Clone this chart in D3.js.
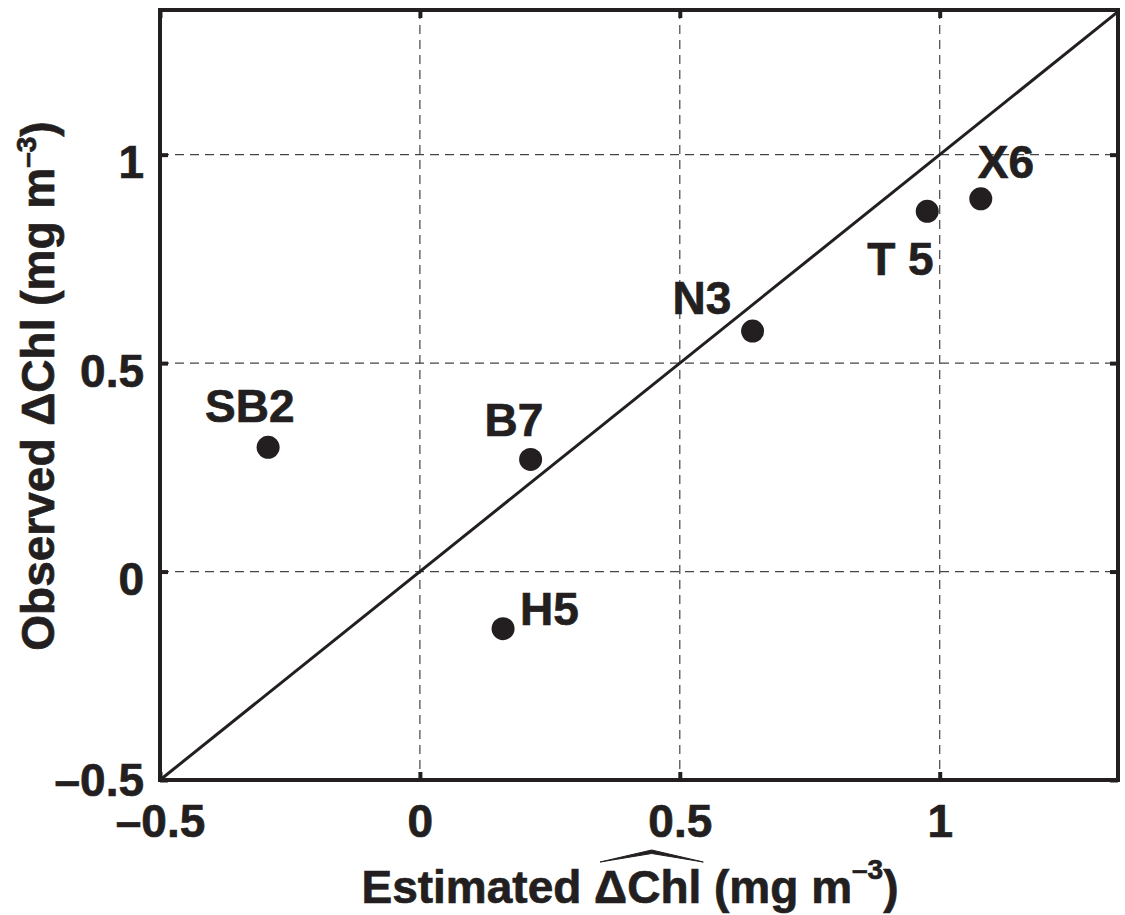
<!DOCTYPE html>
<html>
<head>
<meta charset="utf-8">
<script src="https://cdn.jsdelivr.net/npm/d3@7"></script>
<style>
    body { margin: 0; background: #fff; }
    text { font-family: "Liberation Sans", Arial, sans-serif; font-weight: bold; fill: #231f20;
           stroke: #231f20; stroke-width: 0.7px; }
</style>
</head>
<body>
<div id="chart"></div>
<script>
// stations and their values (mg m-3)
var stations = ["SB2", "B7", "H5", "N3", "T5", "X6"];
var estimated = [-0.292, 0.213, 0.160, 0.640, 0.976, 1.079];
var observed = [0.298, 0.269, -0.137, 0.577, 0.864, 0.894];
var tickValues = [-0.5, 0, 0.5, 1];
var tickLabels = ["\u20130.5", "0", "0.5", "1"];

// label placement, pixels from the dot (text start, baseline)
var labelOffsets = {
    "SB2": [-63, -25],
    "B7": [-46, -23],
    "H5": [17, -4],
    "N3": [-80, -17],
    "T5": [-60, 64],
    "X6": [-3, -21]
};

var svgWidth = 1125;
var svgHeight = 915;
var ink = "#231f20";

var margin = { top: 10, right: 7, bottom: 135, left: 160 };
var chartWidth = svgWidth - margin.left - margin.right;
var chartHeight = svgHeight - margin.top - margin.bottom;

var svg = d3.select("#chart")
    .append("svg")
    .attr("width", svgWidth)
    .attr("height", svgHeight);

var chartGroup = svg.append("g")
    .attr("transform", `translate(${margin.left}, ${margin.top})`);

var xScale = d3.scaleLinear()
    .domain([-0.5, 1.343])
    .range([0, chartWidth]);

var yScale = d3.scaleLinear()
    .domain([-0.5, 1.347])
    .range([chartHeight, 0]);

// dashed grid
chartGroup.append("g")
    .selectAll("line")
    .data(tickValues.slice(1))
    .enter()
    .append("line")
    .attr("x1", d => xScale(d))
    .attr("x2", d => xScale(d))
    .attr("y1", 0)
    .attr("y2", chartHeight)
    .attr("stroke", "#444")
    .attr("stroke-width", 1.2)
    .attr("stroke-dasharray", "9,6");

chartGroup.append("g")
    .selectAll("line")
    .data(tickValues.slice(1))
    .enter()
    .append("line")
    .attr("x1", 0)
    .attr("x2", chartWidth)
    .attr("y1", d => yScale(d))
    .attr("y2", d => yScale(d))
    .attr("stroke", "#444")
    .attr("stroke-width", 1.2)
    .attr("stroke-dasharray", "9,6");

// 1:1 line
var lineEnd = Math.min(xScale.domain()[1], yScale.domain()[1]);
chartGroup.append("line")
    .attr("x1", xScale(-0.5))
    .attr("y1", yScale(-0.5))
    .attr("x2", xScale(lineEnd))
    .attr("y2", yScale(lineEnd))
    .attr("stroke", ink)
    .attr("stroke-width", 3);

// axes on all four sides, ticks pointing in
var tickFmt = d => tickLabels[tickValues.indexOf(d)];
var bottomAxis = d3.axisBottom(xScale).tickValues(tickValues).tickSize(-8).tickFormat(tickFmt);
var leftAxis = d3.axisLeft(yScale).tickValues(tickValues).tickSize(-8).tickFormat(tickFmt);
var topAxis = d3.axisTop(xScale).tickValues(tickValues).tickSize(-8).tickFormat("");
var rightAxis = d3.axisRight(yScale).tickValues(tickValues).tickSize(-8).tickFormat("");

var gx = chartGroup.append("g")
    .attr("transform", `translate(0, ${chartHeight})`)
    .call(bottomAxis);
var gy = chartGroup.append("g")
    .call(leftAxis);
var gt = chartGroup.append("g")
    .call(topAxis);
var gr = chartGroup.append("g")
    .attr("transform", `translate(${chartWidth}, 0)`)
    .call(rightAxis);

[gx, gy, gt, gr].forEach(function(g) {
    g.select(".domain").remove();
    g.selectAll(".tick line").attr("stroke", ink).attr("stroke-width", 4);
    g.selectAll("text").attr("font-size", 46).attr("fill", ink);
});
gx.selectAll(".tick text").attr("dy", null).attr("y", 57);
// lowest y label sits a little higher so it clears the x label
gy.selectAll(".tick text").attr("dy", null).attr("x", -16).attr("y", d => d === -0.5 ? 15 : 23);

// box
chartGroup.append("rect")
    .attr("x", 0)
    .attr("y", 0)
    .attr("width", chartWidth)
    .attr("height", chartHeight)
    .attr("fill", "none")
    .attr("stroke", ink)
    .attr("stroke-width", 4);

// points
var points = stations.map((s, i) => ({ name: s, x: estimated[i], y: observed[i] }));

chartGroup.append("g")
    .selectAll("circle")
    .data(points)
    .enter()
    .append("circle")
    .attr("cx", d => xScale(d.x))
    .attr("cy", d => yScale(d.y))
    .attr("r", 11.5)
    .attr("fill", ink);

chartGroup.append("g")
    .selectAll("text")
    .data(points)
    .enter()
    .append("text")
    .attr("x", d => xScale(d.x) + labelOffsets[d.name][0])
    .attr("y", d => yScale(d.y) + labelOffsets[d.name][1])
    .attr("font-size", 46)
    .text(d => d.name === "T5" ? "T 5" : d.name);

// axis titles
var xTitle = svg.append("text")
    .attr("x", 630)
    .attr("y", 903)
    .attr("text-anchor", "middle")
    .attr("font-size", 46);
xTitle.append("tspan").text("Estimated \u0394Chl (mg m");
xTitle.append("tspan").attr("font-size", 28).attr("dy", -24).text("\u20133");
xTitle.append("tspan").attr("dy", 24).text(")");

// wide hat over ΔChl
var node = xTitle.node();
var a = node.getExtentOfChar(10);
var b = node.getExtentOfChar(13);
var hx0 = a.x + 6, hx1 = b.x + b.width + 2, hxm = (hx0 + hx1) / 2;
svg.append("path")
    .attr("d", `M${hx0},862 L${hxm},850 L${hx1},862 L${hxm},853.5 Z`)
    .attr("fill", ink)
    .attr("stroke", ink)
    .attr("stroke-width", 1)
    .attr("stroke-linejoin", "round");

var yTitle = svg.append("text")
    .attr("transform", "translate(54, 386) rotate(-90)")
    .attr("text-anchor", "middle")
    .attr("font-size", 46);
yTitle.append("tspan").text("Observed \u0394Chl (mg m");
yTitle.append("tspan").attr("font-size", 28).attr("dy", -18).text("\u20133");
yTitle.append("tspan").attr("dy", 18).text(")");
</script>
</body>
</html>
